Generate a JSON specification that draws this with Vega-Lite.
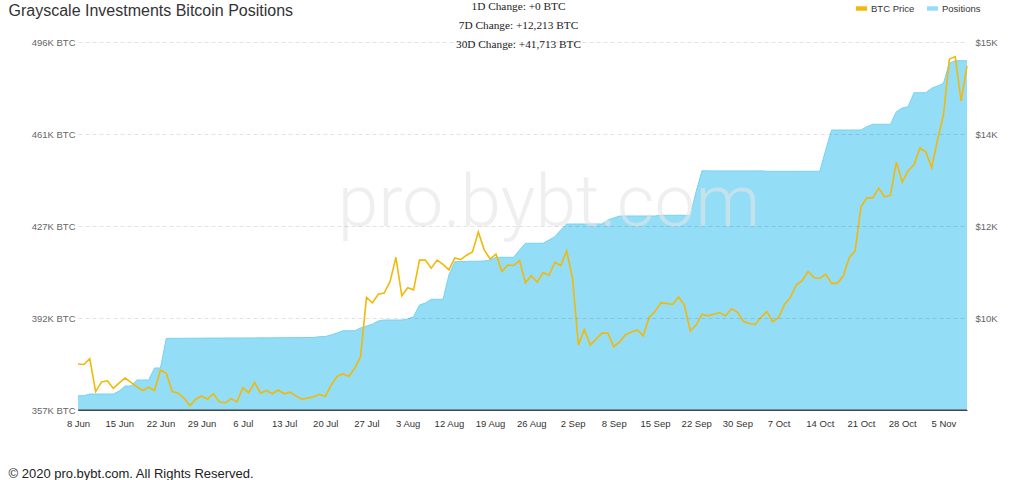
{
"$schema":"https://vega.github.io/schema/vega-lite/v6.json",
"width":889,"height":368,
"autosize":{"type":"none"},
"padding":{"left":78,"top":42,"right":57,"bottom":70},
"background":"#ffffff",
"config":{"view":{"stroke":null},"font":"Liberation Sans","axis":{"labelFont":"Liberation Sans","titleFont":"Liberation Sans"}},
"datasets":{"btc":[
{"date":"2020-06-08","price":9830,"positions":362900},
{"date":"2020-06-09","price":9820,"positions":362900},
{"date":"2020-06-10","price":9930,"positions":363550},
{"date":"2020-06-11","price":9320,"positions":363550},
{"date":"2020-06-12","price":9500,"positions":363550},
{"date":"2020-06-13","price":9520,"positions":363550},
{"date":"2020-06-14","price":9380,"positions":363550},
{"date":"2020-06-15","price":9480,"positions":364690},
{"date":"2020-06-16","price":9570,"positions":366580},
{"date":"2020-06-17","price":9490,"positions":366580},
{"date":"2020-06-18","price":9410,"positions":368850},
{"date":"2020-06-19","price":9340,"positions":368850},
{"date":"2020-06-20","price":9400,"positions":368850},
{"date":"2020-06-21","price":9340,"positions":373390},
{"date":"2020-06-22","price":9720,"positions":373390},
{"date":"2020-06-23","price":9660,"positions":384550},
{"date":"2020-06-24","price":9320,"positions":384620},
{"date":"2020-06-25","price":9290,"positions":384620},
{"date":"2020-06-26","price":9200,"positions":384620},
{"date":"2020-06-27","price":9060,"positions":384660},
{"date":"2020-06-28","price":9180,"positions":384660},
{"date":"2020-06-29","price":9240,"positions":384660},
{"date":"2020-06-30","price":9180,"positions":384700},
{"date":"2020-07-01","price":9280,"positions":384700},
{"date":"2020-07-02","price":9130,"positions":384700},
{"date":"2020-07-03","price":9110,"positions":384740},
{"date":"2020-07-04","price":9190,"positions":384740},
{"date":"2020-07-05","price":9130,"positions":384740},
{"date":"2020-07-06","price":9390,"positions":384740},
{"date":"2020-07-07","price":9300,"positions":384770},
{"date":"2020-07-08","price":9490,"positions":384770},
{"date":"2020-07-09","price":9290,"positions":384810},
{"date":"2020-07-10","price":9340,"positions":384810},
{"date":"2020-07-11","price":9280,"positions":384810},
{"date":"2020-07-12","price":9350,"positions":384850},
{"date":"2020-07-13","price":9280,"positions":384850},
{"date":"2020-07-14","price":9310,"positions":384850},
{"date":"2020-07-15","price":9240,"positions":384890},
{"date":"2020-07-16","price":9180,"positions":384890},
{"date":"2020-07-17","price":9200,"positions":384930},
{"date":"2020-07-18","price":9220,"positions":384930},
{"date":"2020-07-19","price":9270,"positions":385230},
{"date":"2020-07-20","price":9230,"positions":385300},
{"date":"2020-07-21","price":9440,"positions":385870},
{"date":"2020-07-22","price":9600,"positions":386630},
{"date":"2020-07-23","price":9650,"positions":387500},
{"date":"2020-07-24","price":9600,"positions":387500},
{"date":"2020-07-25","price":9750,"positions":387500},
{"date":"2020-07-26","price":9970,"positions":388520},
{"date":"2020-07-27","price":11060,"positions":389270},
{"date":"2020-07-28","price":10960,"positions":389920},
{"date":"2020-07-29","price":11120,"positions":391170},
{"date":"2020-07-30","price":11140,"positions":391540},
{"date":"2020-07-31","price":11350,"positions":391540},
{"date":"2020-08-01","price":11800,"positions":391540},
{"date":"2020-08-02","price":11090,"positions":391540},
{"date":"2020-08-03","price":11240,"positions":391920},
{"date":"2020-08-04","price":11200,"positions":392790},
{"date":"2020-08-05","price":11750,"positions":397220},
{"date":"2020-08-06","price":11750,"positions":397970},
{"date":"2020-08-07","price":11600,"positions":399370},
{"date":"2020-08-08","price":11750,"positions":399370},
{"date":"2020-08-09","price":11670,"positions":399370},
{"date":"2020-08-12","price":11570,"positions":408570},
{"date":"2020-08-13","price":11790,"positions":413600},
{"date":"2020-08-14","price":11760,"positions":413670},
{"date":"2020-08-15","price":11840,"positions":413710},
{"date":"2020-08-16","price":11900,"positions":413750},
{"date":"2020-08-17","price":12270,"positions":413790},
{"date":"2020-08-18","price":11940,"positions":413860},
{"date":"2020-08-19","price":11770,"positions":414240},
{"date":"2020-08-20","price":11860,"positions":415260},
{"date":"2020-08-21","price":11540,"positions":415260},
{"date":"2020-08-22","price":11660,"positions":415260},
{"date":"2020-08-23","price":11650,"positions":415260},
{"date":"2020-08-24","price":11740,"positions":418020},
{"date":"2020-08-25","price":11330,"positions":420560},
{"date":"2020-08-26","price":11460,"positions":420560},
{"date":"2020-08-27","price":11340,"positions":420560},
{"date":"2020-08-28","price":11520,"positions":420560},
{"date":"2020-08-29","price":11470,"positions":421810},
{"date":"2020-08-30","price":11710,"positions":423050},
{"date":"2020-08-31","price":11650,"positions":425590},
{"date":"2020-09-01","price":11920,"positions":427860},
{"date":"2020-09-02","price":11410,"positions":427860},
{"date":"2020-09-03","price":10180,"positions":427860},
{"date":"2020-09-04","price":10470,"positions":427860},
{"date":"2020-09-05","price":10180,"positions":427860},
{"date":"2020-09-06","price":10290,"positions":427860},
{"date":"2020-09-07","price":10400,"positions":427860},
{"date":"2020-09-07T12:00","price":10400,"positions":429370},
{"date":"2020-09-08","price":10150,"positions":430130},
{"date":"2020-09-09","price":10240,"positions":430880},
{"date":"2020-09-10","price":10370,"positions":430880},
{"date":"2020-09-11","price":10420,"positions":430880},
{"date":"2020-09-12","price":10460,"positions":430880},
{"date":"2020-09-13","price":10350,"positions":430880},
{"date":"2020-09-14","price":10690,"positions":430880},
{"date":"2020-09-15","price":10800,"positions":430880},
{"date":"2020-09-16","price":10960,"positions":431150},
{"date":"2020-09-17","price":10950,"positions":431150},
{"date":"2020-09-18","price":10930,"positions":431150},
{"date":"2020-09-19","price":11070,"positions":431150},
{"date":"2020-09-20","price":10920,"positions":431150},
{"date":"2020-09-21","price":10440,"positions":431150},
{"date":"2020-09-22","price":10550,"positions":440200},
{"date":"2020-09-24","price":10750,"positions":448020},
{"date":"2020-09-25","price":10720,"positions":447950},
{"date":"2020-09-26","price":10750,"positions":447950},
{"date":"2020-09-27","price":10780,"positions":447950},
{"date":"2020-09-28","price":10720,"positions":447950},
{"date":"2020-09-29","price":10850,"positions":447950},
{"date":"2020-09-30","price":10790,"positions":447950},
{"date":"2020-10-01","price":10620,"positions":447950},
{"date":"2020-10-02","price":10580,"positions":447950},
{"date":"2020-10-03","price":10560,"positions":447950},
{"date":"2020-10-04","price":10690,"positions":447950},
{"date":"2020-10-05","price":10800,"positions":447800},
{"date":"2020-10-06","price":10610,"positions":447800},
{"date":"2020-10-07","price":10690,"positions":447800},
{"date":"2020-10-08","price":10930,"positions":447800},
{"date":"2020-10-09","price":11060,"positions":447800},
{"date":"2020-10-10","price":11290,"positions":447800},
{"date":"2020-10-11","price":11370,"positions":447800},
{"date":"2020-10-12","price":11540,"positions":447800},
{"date":"2020-10-13","price":11430,"positions":447800},
{"date":"2020-10-14","price":11410,"positions":447800},
{"date":"2020-10-15","price":11490,"positions":455850},
{"date":"2020-10-16","price":11320,"positions":463410},
{"date":"2020-10-17","price":11320,"positions":463410},
{"date":"2020-10-18","price":11460,"positions":463410},
{"date":"2020-10-19","price":11800,"positions":463410},
{"date":"2020-10-20","price":11920,"positions":463410},
{"date":"2020-10-21","price":12740,"positions":463410},
{"date":"2020-10-22","price":12900,"positions":464660},
{"date":"2020-10-23","price":12900,"positions":465570},
{"date":"2020-10-24","price":13080,"positions":465570},
{"date":"2020-10-25","price":12920,"positions":465570},
{"date":"2020-10-26","price":12950,"positions":465570},
{"date":"2020-10-27","price":13560,"positions":470340},
{"date":"2020-10-28","price":13190,"positions":471740},
{"date":"2020-10-29","price":13400,"positions":472230},
{"date":"2020-10-30","price":13510,"positions":477520},
{"date":"2020-10-31","price":13820,"positions":477520},
{"date":"2020-11-01","price":13750,"positions":477520},
{"date":"2020-11-02","price":13460,"positions":479190},
{"date":"2020-11-04","price":13970,"positions":480060},
{"date":"2020-11-05","price":14430,"positions":481080},
{"date":"2020-11-06","price":15460,"positions":488640},
{"date":"2020-11-07","price":15510,"positions":489630},
{"date":"2020-11-08","price":14690,"positions":489630},
{"date":"2020-11-09","price":15340,"positions":489630}
],
"watermark":[{"label":"pro.bybt.com"}],
"baseline":[{"positions":357500}]},
"layer":[
  {"layer":[
     {"data":{"name":"btc"},
      "mark":{"type":"area","clip":true},
      "encoding":{
        "x":{"field":"date","type":"ordinal","title":"© 2020 pro.bybt.com. All Rights Reserved.",
          "scale":{"type":"point","padding":0},
          "axis":{"values":["2020-06-08","2020-06-15","2020-06-22","2020-06-29","2020-07-06","2020-07-13","2020-07-20","2020-07-27","2020-08-03","2020-08-12","2020-08-19","2020-08-26","2020-09-02","2020-09-08","2020-09-15","2020-09-22","2020-09-30","2020-10-07","2020-10-14","2020-10-21","2020-10-28","2020-11-05"],
            "labelExpr":"utcFormat(toDate(datum.value), '%-d %b')","zindex":1,
            "labelAngle":0,"labelFontSize":9.5,"labelColor":"#333333","labelPadding":8,"labelOverlap":false,
            "ticks":false,"grid":false,"domain":true,"domainColor":"#444444","domainWidth":1,
            "titleX":-70,"titleY":67,"titleAlign":"left","titleBaseline":"alphabetic","titleAnchor":"start",
            "titleFontSize":13,"titleFontWeight":"normal","titleColor":"#222222"}},
        "y":{"field":"positions","type":"quantitative","title":"Grayscale Investments Bitcoin Positions",
          "scale":{"domain":[357500,496700],"nice":false,"zero":false},
          "axis":{"orient":"left","values":[357500,392300,427100,461900,496700],"zindex":1,
            "labelExpr":"floor(datum.value/1000)+'K BTC'","labelFontSize":9.5,"labelColor":"#666666","labelPadding":3,
            "domain":false,"ticks":false,"grid":true,"gridColor":"#000000","gridOpacity":0.11,"gridDash":[4,3],
            "titleAngle":0,"titleX":-70,"titleY":-27,"titleAlign":"left","titleBaseline":"alphabetic",
            "titleFontSize":16,"titleFontWeight":"normal","titleColor":"#333333"}},
        "color":{"datum":"Positions","type":"nominal",
          "scale":{"domain":["BTC Price","Positions"],"range":["#f0b90b","#93ddf6"]},
          "legend":{"orient":"none","legendX":778,"legendY":-39,"direction":"horizontal","title":null,
            "labelFontSize":9.5,"labelColor":"#333333","labelFont":"Liberation Sans",
            "symbolType":"M-1,-0.4H1V0.4H-1Z","symbolSize":121,"symbolStrokeWidth":0,"symbolOpacity":1,
            "columnPadding":12,"labelOffset":4,"padding":0}}}},
     {"data":{"name":"btc"},
      "mark":{"type":"line","color":"#78d2f3","strokeWidth":1},
      "encoding":{"x":{"field":"date","type":"ordinal"},"y":{"field":"positions","type":"quantitative"}}},
     {"data":{"name":"baseline"},
      "mark":{"type":"rule","color":"#444444","strokeWidth":1},
      "encoding":{"y":{"field":"positions","type":"quantitative"}}},
     {"data":{"name":"watermark"},
      "mark":{"type":"text","font":"Roboto","fontWeight":300,"fontSize":73,"color":"#e6e6e6","opacity":0.6,"align":"center","baseline":"alphabetic"},
      "encoding":{"x":{"datum":"2020-08-29","type":"ordinal"},
        "y":{"datum":427100,"type":"quantitative"},
        "text":{"field":"label","type":"nominal"}}}
   ]},
  {"data":{"name":"btc"},
   "mark":{"type":"line","strokeWidth":1.6},
   "encoding":{
     "x":{"field":"date","type":"ordinal"},
     "y":{"field":"price","type":"quantitative","title":["1D Change: +0 BTC","7D Change: +12,213 BTC","30D Change: +41,713 BTC"],
       "scale":{"domain":[8980,15780],"nice":false,"zero":false},
       "axis":{"orient":"right","values":[10680,12380,14080,15780],
         "labelExpr":"'$'+floor(datum.value/1000)+'K'","labelFontSize":9.5,"labelColor":"#666666","labelPadding":8,
         "domain":false,"ticks":false,"grid":false,
         "titleAngle":0,"titleX":-449,"titleY":-32.7,"titleAlign":"center","titleBaseline":"alphabetic",
         "titleFont":"Liberation Serif","titleFontSize":11.3,"titleFontWeight":"normal","titleColor":"#222222","titleLineHeight":19}},
     "color":{"datum":"BTC Price","type":"nominal"}
   }}
],
"resolve":{"scale":{"y":"independent"}}
}
